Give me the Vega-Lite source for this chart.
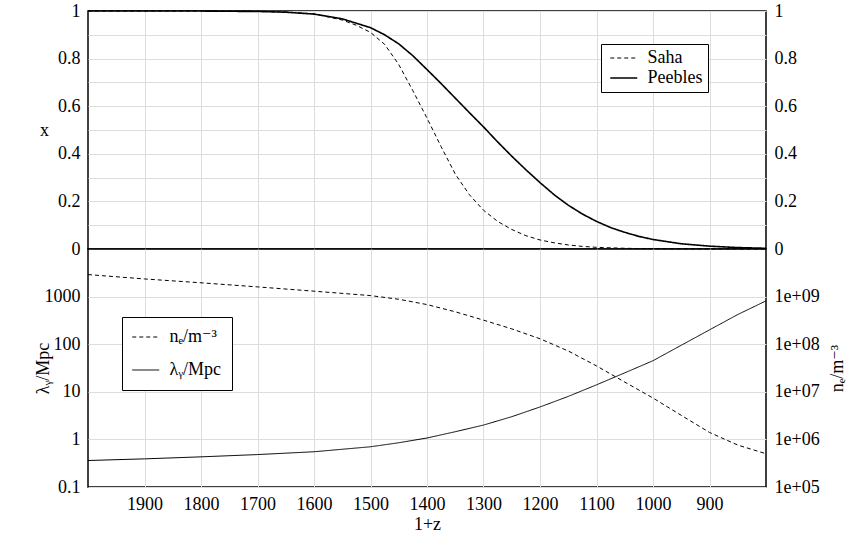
{
  "$schema": "https://vega.github.io/schema/vega-lite/v6.json",
  "padding": {"left": 33, "top": 1, "right": 0, "bottom": 0},
  "background": "white",
  "spacing": 0,
  "bounds": "flush",
  "datasets": {
    "top": [
      {"s": "Peebles", "z": 2000, "v": 1}, {"s": "Peebles", "z": 1900, "v": 1}, {"s": "Peebles", "z": 1800, "v": 0.9998},
      {"s": "Peebles", "z": 1700, "v": 0.998}, {"s": "Peebles", "z": 1650, "v": 0.995}, {"s": "Peebles", "z": 1600, "v": 0.987},
      {"s": "Peebles", "z": 1550, "v": 0.967}, {"s": "Peebles", "z": 1500, "v": 0.93}, {"s": "Peebles", "z": 1475, "v": 0.9},
      {"s": "Peebles", "z": 1450, "v": 0.862}, {"s": "Peebles", "z": 1425, "v": 0.812}, {"s": "Peebles", "z": 1400, "v": 0.754},
      {"s": "Peebles", "z": 1375, "v": 0.695}, {"s": "Peebles", "z": 1350, "v": 0.634}, {"s": "Peebles", "z": 1325, "v": 0.573},
      {"s": "Peebles", "z": 1300, "v": 0.513}, {"s": "Peebles", "z": 1275, "v": 0.45}, {"s": "Peebles", "z": 1250, "v": 0.39},
      {"s": "Peebles", "z": 1225, "v": 0.333}, {"s": "Peebles", "z": 1200, "v": 0.279}, {"s": "Peebles", "z": 1175, "v": 0.228},
      {"s": "Peebles", "z": 1150, "v": 0.184}, {"s": "Peebles", "z": 1125, "v": 0.147}, {"s": "Peebles", "z": 1100, "v": 0.116},
      {"s": "Peebles", "z": 1075, "v": 0.09}, {"s": "Peebles", "z": 1050, "v": 0.07}, {"s": "Peebles", "z": 1025, "v": 0.053},
      {"s": "Peebles", "z": 1000, "v": 0.04}, {"s": "Peebles", "z": 950, "v": 0.022}, {"s": "Peebles", "z": 900, "v": 0.012},
      {"s": "Peebles", "z": 850, "v": 0.006}, {"s": "Peebles", "z": 800, "v": 0.003},
      {"s": "Saha", "z": 2000, "v": 1}, {"s": "Saha", "z": 1800, "v": 1}, {"s": "Saha", "z": 1700, "v": 0.999},
      {"s": "Saha", "z": 1650, "v": 0.996}, {"s": "Saha", "z": 1600, "v": 0.988}, {"s": "Saha", "z": 1550, "v": 0.962},
      {"s": "Saha", "z": 1525, "v": 0.94}, {"s": "Saha", "z": 1500, "v": 0.91}, {"s": "Saha", "z": 1475, "v": 0.86},
      {"s": "Saha", "z": 1450, "v": 0.775}, {"s": "Saha", "z": 1425, "v": 0.665}, {"s": "Saha", "z": 1400, "v": 0.55},
      {"s": "Saha", "z": 1375, "v": 0.43}, {"s": "Saha", "z": 1350, "v": 0.315}, {"s": "Saha", "z": 1325, "v": 0.228},
      {"s": "Saha", "z": 1300, "v": 0.163}, {"s": "Saha", "z": 1275, "v": 0.116}, {"s": "Saha", "z": 1250, "v": 0.082},
      {"s": "Saha", "z": 1225, "v": 0.056}, {"s": "Saha", "z": 1200, "v": 0.038}, {"s": "Saha", "z": 1175, "v": 0.026},
      {"s": "Saha", "z": 1150, "v": 0.017}, {"s": "Saha", "z": 1125, "v": 0.011}, {"s": "Saha", "z": 1100, "v": 0.007},
      {"s": "Saha", "z": 1050, "v": 0.003}, {"s": "Saha", "z": 1000, "v": 0.001}, {"s": "Saha", "z": 950, "v": 0.0004},
      {"s": "Saha", "z": 900, "v": 0.0001}, {"s": "Saha", "z": 800, "v": 0}
    ],
    "ne": [
      {"s": "nₑ/m⁻³", "z": 2000, "v": 2.9e9}, {"s": "nₑ/m⁻³", "z": 1900, "v": 2.35e9}, {"s": "nₑ/m⁻³", "z": 1800, "v": 1.95e9},
      {"s": "nₑ/m⁻³", "z": 1700, "v": 1.6e9}, {"s": "nₑ/m⁻³", "z": 1600, "v": 1.3e9}, {"s": "nₑ/m⁻³", "z": 1500, "v": 1.05e9},
      {"s": "nₑ/m⁻³", "z": 1450, "v": 8.8e8}, {"s": "nₑ/m⁻³", "z": 1400, "v": 6.8e8}, {"s": "nₑ/m⁻³", "z": 1350, "v": 4.8e8},
      {"s": "nₑ/m⁻³", "z": 1300, "v": 3.2e8}, {"s": "nₑ/m⁻³", "z": 1250, "v": 2.1e8}, {"s": "nₑ/m⁻³", "z": 1200, "v": 1.3e8},
      {"s": "nₑ/m⁻³", "z": 1150, "v": 7.2e7}, {"s": "nₑ/m⁻³", "z": 1100, "v": 3.5e7}, {"s": "nₑ/m⁻³", "z": 1050, "v": 1.6e7},
      {"s": "nₑ/m⁻³", "z": 1000, "v": 7.4e6}, {"s": "nₑ/m⁻³", "z": 950, "v": 3.2e6}, {"s": "nₑ/m⁻³", "z": 900, "v": 1.4e6},
      {"s": "nₑ/m⁻³", "z": 850, "v": 7.6e5}, {"s": "nₑ/m⁻³", "z": 800, "v": 5e5}
    ],
    "lam": [
      {"s": "λᵧ/Mpc", "z": 2000, "v": 0.36}, {"s": "λᵧ/Mpc", "z": 1900, "v": 0.39}, {"s": "λᵧ/Mpc", "z": 1800, "v": 0.43},
      {"s": "λᵧ/Mpc", "z": 1700, "v": 0.48}, {"s": "λᵧ/Mpc", "z": 1600, "v": 0.55}, {"s": "λᵧ/Mpc", "z": 1500, "v": 0.7},
      {"s": "λᵧ/Mpc", "z": 1450, "v": 0.85}, {"s": "λᵧ/Mpc", "z": 1400, "v": 1.07}, {"s": "λᵧ/Mpc", "z": 1350, "v": 1.45},
      {"s": "λᵧ/Mpc", "z": 1300, "v": 2.0}, {"s": "λᵧ/Mpc", "z": 1250, "v": 3.0}, {"s": "λᵧ/Mpc", "z": 1200, "v": 4.8},
      {"s": "λᵧ/Mpc", "z": 1150, "v": 8}, {"s": "λᵧ/Mpc", "z": 1100, "v": 14}, {"s": "λᵧ/Mpc", "z": 1050, "v": 25},
      {"s": "λᵧ/Mpc", "z": 1000, "v": 45}, {"s": "λᵧ/Mpc", "z": 950, "v": 95}, {"s": "λᵧ/Mpc", "z": 900, "v": 200},
      {"s": "λᵧ/Mpc", "z": 850, "v": 420}, {"s": "λᵧ/Mpc", "z": 800, "v": 813}
    ]
  },
  "vconcat": [
    {
      "width": 678,
      "height": 238,
      "layer": [
        {
          "data": {"name": "top"},
          "mark": {"type": "line", "color": "black"},
          "encoding": {
            "x": {"field": "z", "type": "quantitative", "scale": {"domain": [800, 2000], "reverse": true, "nice": false, "zero": false},
                  "axis": {"values": [900, 1000, 1100, 1200, 1300, 1400, 1500, 1600, 1700, 1800, 1900], "labels": false, "title": null, "grid": true}},
            "y": {"field": "v", "type": "quantitative", "scale": {"domain": [0, 1], "nice": false},
                  "axis": {"orient": "left", "values": [0, 0.1, 0.2, 0.3, 0.4, 0.5, 0.6, 0.7, 0.8, 0.9, 1], "format": "~g",
                           "labelExpr": "(round(datum.value*10) % 2 == 0) ? datum.label : ''", "grid": true,
                           "title": "x", "titleAngle": 0, "titleX": -44, "titleY": 119, "titleAlign": "center", "titleBaseline": "middle"}},
            "strokeDash": {"field": "s", "type": "nominal", "scale": {"domain": ["Saha", "Peebles"], "range": [[4, 3], [1, 0]]},
                           "legend": {"orient": "none", "legendX": 513, "legendY": 33, "title": null, "rowPadding": 2, "padding": 5, "symbolOffset": 8.75}},
            "strokeWidth": {"field": "s", "type": "nominal", "scale": {"domain": ["Saha", "Peebles"], "range": [1, 1.6]},
                            "legend": {"orient": "none", "legendX": 513, "legendY": 33, "title": null, "rowPadding": 2, "padding": 5, "symbolOffset": 8.75}}
          }
        },
        {
          "data": {"name": "top"},
          "mark": {"type": "line", "opacity": 0},
          "encoding": {
            "x": {"field": "z", "type": "quantitative", "scale": {"domain": [800, 2000], "reverse": true, "nice": false, "zero": false}},
            "y": {"field": "v", "type": "quantitative", "scale": {"domain": [0, 1], "nice": false},
                  "axis": {"orient": "right", "values": [0, 0.2, 0.4, 0.6, 0.8, 1], "format": "~g", "grid": false, "title": null}},
            "detail": {"field": "s"}
          }
        }
      ],
      "resolve": {"scale": {"y": "independent"}}
    },
    {
      "width": 678,
      "height": 238,
      "layer": [
        {
          "data": {"name": "lam"},
          "mark": {"type": "line", "color": "black", "strokeWidth": 1},
          "encoding": {
            "x": {"field": "z", "type": "quantitative", "scale": {"domain": [800, 2000], "reverse": true, "nice": false, "zero": false},
                  "axis": {"values": [900, 1000, 1100, 1200, 1300, 1400, 1500, 1600, 1700, 1800, 1900], "format": "d", "grid": true,
                           "title": "1+z", "labelPadding": 8, "titlePadding": 2}},
            "y": {"field": "v", "type": "quantitative", "scale": {"type": "log", "domain": [0.1, 10000], "nice": false},
                  "axis": {"orient": "left", "values": [0.1, 1, 10, 100, 1000], "format": "~g", "grid": true,
                           "title": "λᵧ/Mpc", "titleX": -45, "titleY": 119, "titleAlign": "center", "titleBaseline": "middle"}},
            "strokeDash": {"field": "s", "type": "nominal", "scale": {"domain": ["nₑ/m⁻³", "λᵧ/Mpc"], "range": [[4, 3], [1, 0]]},
                           "legend": {"orient": "none", "legendX": 34, "legendY": 68, "title": null, "rowPadding": 15, "padding": 11, "symbolOffset": 3.75}}
          }
        },
        {
          "data": {"name": "ne"},
          "mark": {"type": "line", "color": "black", "strokeWidth": 1},
          "encoding": {
            "x": {"field": "z", "type": "quantitative", "scale": {"domain": [800, 2000], "reverse": true, "nice": false, "zero": false}},
            "y": {"field": "v", "type": "quantitative", "scale": {"type": "log", "domain": [1e5, 1e10], "nice": false},
                  "axis": {"orient": "right", "values": [1e5, 1e6, 1e7, 1e8, 1e9], "grid": false,
                           "labelExpr": "'1e+' + (round(log(datum.value)/LN10) < 10 ? '0' : '') + round(log(datum.value)/LN10)",
                           "title": "nₑ/m⁻³", "titleAngle": -90, "titleX": 71, "titleY": 119, "titleAlign": "center", "titleBaseline": "middle"}},
            "strokeDash": {"field": "s", "type": "nominal", "scale": {"domain": ["nₑ/m⁻³", "λᵧ/Mpc"], "range": [[4, 3], [1, 0]]},
                           "legend": {"orient": "none", "legendX": 34, "legendY": 68, "title": null, "rowPadding": 15, "padding": 11, "symbolOffset": 3.75}}
          }
        }
      ],
      "resolve": {"scale": {"y": "independent"}}
    }
  ],
  "resolve": {"legend": {"strokeDash": "independent", "strokeWidth": "independent"}, "scale": {"strokeDash": "independent"}},
  "config": {
    "font": "Liberation Serif, Times New Roman, Times, DejaVu Serif, serif",
    "view": {"stroke": "black", "strokeWidth": 1.5},
    "axis": {
      "labelFont": "Liberation Serif, Times New Roman, Times, DejaVu Serif, serif", "labelFontSize": 18, "labelColor": "black",
      "titleFont": "Liberation Serif, Times New Roman, Times, DejaVu Serif, serif", "titleFontSize": 18, "titleFontWeight": "normal", "titleColor": "black",
      "gridColor": "#dddddd", "gridWidth": 1, "ticks": false, "domain": false, "labelPadding": 8,
      "labelOverlap": false, "labelBound": false, "labelFlush": false
    },
    "legend": {
      "labelFont": "Liberation Serif, Times New Roman, Times, DejaVu Serif, serif", "labelFontSize": 18, "labelColor": "black",
      "strokeColor": "black", "fillColor": "white", "cornerRadius": 0,
      "symbolType": "M-2,0H2", "symbolSize": 182.25, "symbolStrokeColor": "black", "symbolStrokeWidth": 1,
      "labelOffset": 14.75
    }
  }
}
